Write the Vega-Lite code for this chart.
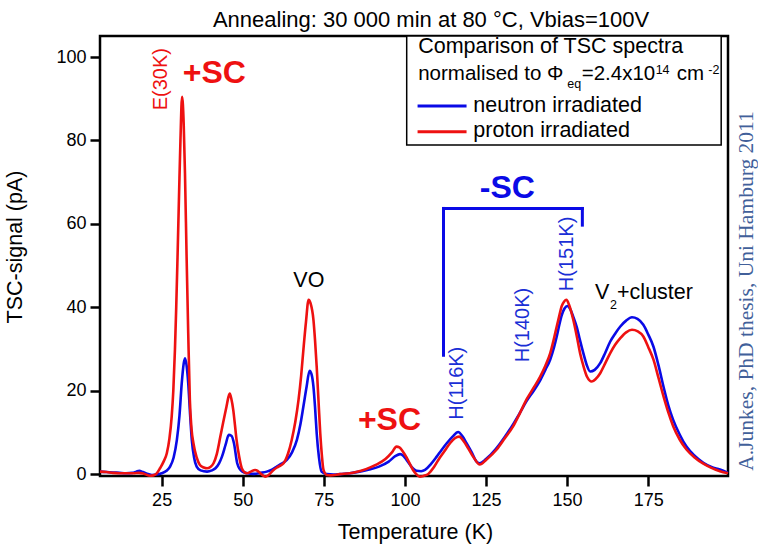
{
  "$schema": "https://vega.github.io/schema/vega-lite/v6.json",
  "width": 628,
  "height": 440,
  "autosize": "none",
  "padding": {"left": 100, "top": 36, "right": 30, "bottom": 76},
  "background": "white",
  "title": {
    "text": "Annealing: 30 000 min at 80 °C, Vbias=100V",
    "fontSize": 22,
    "fontWeight": "normal",
    "font": "Liberation Sans",
    "color": "black",
    "anchor": "middle",
    "dx": 17,
    "dy": 23,
    "baseline": "bottom",
    "offset": 4
  },
  "datasets": {
    "tsc": [
      {"run": "neutron", "T": 6, "pA": 0.6}, {"run": "neutron", "T": 8, "pA": 0.5}, {"run": "neutron", "T": 10, "pA": 0.4},
      {"run": "neutron", "T": 12, "pA": 0.3}, {"run": "neutron", "T": 14, "pA": 0.2}, {"run": "neutron", "T": 16, "pA": 0.3},
      {"run": "neutron", "T": 17.2, "pA": 0.6}, {"run": "neutron", "T": 18.1, "pA": 0.8}, {"run": "neutron", "T": 19.2, "pA": 0.5},
      {"run": "neutron", "T": 20.4, "pA": 0.1}, {"run": "neutron", "T": 22, "pA": -0.2}, {"run": "neutron", "T": 23.5, "pA": -0.1},
      {"run": "neutron", "T": 25, "pA": 0.2}, {"run": "neutron", "T": 26.5, "pA": 0.8}, {"run": "neutron", "T": 27.6, "pA": 1.8},
      {"run": "neutron", "T": 28.7, "pA": 4}, {"run": "neutron", "T": 29.7, "pA": 8.2}, {"run": "neutron", "T": 30.5, "pA": 14},
      {"run": "neutron", "T": 31.2, "pA": 21.8}, {"run": "neutron", "T": 31.8, "pA": 26.5}, {"run": "neutron", "T": 32.2, "pA": 27.8},
      {"run": "neutron", "T": 32.7, "pA": 26}, {"run": "neutron", "T": 33.2, "pA": 21.8}, {"run": "neutron", "T": 33.8, "pA": 14},
      {"run": "neutron", "T": 34.3, "pA": 8.2}, {"run": "neutron", "T": 35, "pA": 4}, {"run": "neutron", "T": 35.8, "pA": 1.8},
      {"run": "neutron", "T": 37, "pA": 0.9}, {"run": "neutron", "T": 39, "pA": 0.6}, {"run": "neutron", "T": 40.5, "pA": 0.9},
      {"run": "neutron", "T": 41.6, "pA": 1.4}, {"run": "neutron", "T": 42.7, "pA": 2.6}, {"run": "neutron", "T": 43.6, "pA": 4.2},
      {"run": "neutron", "T": 44.7, "pA": 7}, {"run": "neutron", "T": 45.7, "pA": 9.4}, {"run": "neutron", "T": 46.5, "pA": 9.2},
      {"run": "neutron", "T": 47.3, "pA": 7.4}, {"run": "neutron", "T": 48.3, "pA": 2.6}, {"run": "neutron", "T": 49.1, "pA": 1.2},
      {"run": "neutron", "T": 49.9, "pA": 0.6}, {"run": "neutron", "T": 51.5, "pA": 0.2}, {"run": "neutron", "T": 53.3, "pA": 0.05},
      {"run": "neutron", "T": 55.5, "pA": 0.3}, {"run": "neutron", "T": 57.4, "pA": 0.6}, {"run": "neutron", "T": 59, "pA": 1.1},
      {"run": "neutron", "T": 60.5, "pA": 1.8}, {"run": "neutron", "T": 62, "pA": 2.5}, {"run": "neutron", "T": 63.6, "pA": 3.4},
      {"run": "neutron", "T": 65.2, "pA": 5.2}, {"run": "neutron", "T": 66.7, "pA": 8.2}, {"run": "neutron", "T": 67.8, "pA": 12},
      {"run": "neutron", "T": 68.7, "pA": 16.2}, {"run": "neutron", "T": 69.7, "pA": 21}, {"run": "neutron", "T": 70.6, "pA": 24.8},
      {"run": "neutron", "T": 71.2, "pA": 24}, {"run": "neutron", "T": 71.8, "pA": 21}, {"run": "neutron", "T": 72.3, "pA": 16},
      {"run": "neutron", "T": 72.8, "pA": 9.8}, {"run": "neutron", "T": 73.5, "pA": 4}, {"run": "neutron", "T": 74.3, "pA": 0.6},
      {"run": "neutron", "T": 75.9, "pA": 0}, {"run": "neutron", "T": 78, "pA": -0.1}, {"run": "neutron", "T": 80, "pA": 0},
      {"run": "neutron", "T": 83, "pA": 0.2}, {"run": "neutron", "T": 86, "pA": 0.6}, {"run": "neutron", "T": 89, "pA": 1.1},
      {"run": "neutron", "T": 92, "pA": 1.8}, {"run": "neutron", "T": 95, "pA": 3}, {"run": "neutron", "T": 97, "pA": 4.3},
      {"run": "neutron", "T": 98.5, "pA": 4.8}, {"run": "neutron", "T": 99.5, "pA": 4.4}, {"run": "neutron", "T": 100.5, "pA": 3.4},
      {"run": "neutron", "T": 102, "pA": 1.8}, {"run": "neutron", "T": 103.6, "pA": 0.8}, {"run": "neutron", "T": 105, "pA": 0.7},
      {"run": "neutron", "T": 106.2, "pA": 1.0}, {"run": "neutron", "T": 108, "pA": 2.4}, {"run": "neutron", "T": 109.8, "pA": 4.2},
      {"run": "neutron", "T": 111.3, "pA": 5.8}, {"run": "neutron", "T": 112.9, "pA": 7.4}, {"run": "neutron", "T": 114.7, "pA": 9},
      {"run": "neutron", "T": 116.4, "pA": 10.1}, {"run": "neutron", "T": 117.8, "pA": 9}, {"run": "neutron", "T": 119, "pA": 7.4},
      {"run": "neutron", "T": 120.6, "pA": 5.2}, {"run": "neutron", "T": 122.1, "pA": 3.0}, {"run": "neutron", "T": 123.1, "pA": 2.6},
      {"run": "neutron", "T": 125, "pA": 3.6}, {"run": "neutron", "T": 128, "pA": 6}, {"run": "neutron", "T": 130.5, "pA": 8.6},
      {"run": "neutron", "T": 133, "pA": 11.5}, {"run": "neutron", "T": 135.3, "pA": 14.5}, {"run": "neutron", "T": 137.5, "pA": 17.5},
      {"run": "neutron", "T": 139.7, "pA": 20}, {"run": "neutron", "T": 141.7, "pA": 22.5}, {"run": "neutron", "T": 143.3, "pA": 25},
      {"run": "neutron", "T": 144.8, "pA": 27.5}, {"run": "neutron", "T": 146, "pA": 30.5}, {"run": "neutron", "T": 146.8, "pA": 33},
      {"run": "neutron", "T": 147.6, "pA": 35.8}, {"run": "neutron", "T": 148.3, "pA": 38}, {"run": "neutron", "T": 149.2, "pA": 39.7},
      {"run": "neutron", "T": 150.1, "pA": 40.3}, {"run": "neutron", "T": 151, "pA": 39.5}, {"run": "neutron", "T": 152, "pA": 37.5},
      {"run": "neutron", "T": 153, "pA": 35.2}, {"run": "neutron", "T": 154, "pA": 32}, {"run": "neutron", "T": 155, "pA": 29},
      {"run": "neutron", "T": 156, "pA": 26.3}, {"run": "neutron", "T": 157.1, "pA": 24.6}, {"run": "neutron", "T": 158.5, "pA": 25},
      {"run": "neutron", "T": 160.2, "pA": 26.6}, {"run": "neutron", "T": 161.7, "pA": 29}, {"run": "neutron", "T": 163.3, "pA": 31.8},
      {"run": "neutron", "T": 164.9, "pA": 33.8}, {"run": "neutron", "T": 166.4, "pA": 35.4}, {"run": "neutron", "T": 168.2, "pA": 36.8},
      {"run": "neutron", "T": 170, "pA": 37.6}, {"run": "neutron", "T": 171.7, "pA": 37.2}, {"run": "neutron", "T": 173.5, "pA": 35.8},
      {"run": "neutron", "T": 175, "pA": 33.5}, {"run": "neutron", "T": 176.6, "pA": 30.6}, {"run": "neutron", "T": 178.2, "pA": 26},
      {"run": "neutron", "T": 179.7, "pA": 21}, {"run": "neutron", "T": 181.2, "pA": 16.5}, {"run": "neutron", "T": 182.7, "pA": 13},
      {"run": "neutron", "T": 184.7, "pA": 9.5}, {"run": "neutron", "T": 186.8, "pA": 6.6}, {"run": "neutron", "T": 189.3, "pA": 4.4},
      {"run": "neutron", "T": 192, "pA": 2.7}, {"run": "neutron", "T": 194.5, "pA": 1.7}, {"run": "neutron", "T": 197.1, "pA": 1.1},
      {"run": "neutron", "T": 199.6, "pA": 0.3},
      {"run": "proton", "T": 6, "pA": 0.6}, {"run": "proton", "T": 8, "pA": 0.5}, {"run": "proton", "T": 10, "pA": 0.3},
      {"run": "proton", "T": 12, "pA": 0.2}, {"run": "proton", "T": 14, "pA": 0.2}, {"run": "proton", "T": 16.3, "pA": 0.2},
      {"run": "proton", "T": 18, "pA": 0.3}, {"run": "proton", "T": 19.5, "pA": 0.1}, {"run": "proton", "T": 21.4, "pA": -0.4},
      {"run": "proton", "T": 22.5, "pA": -0.3}, {"run": "proton", "T": 23.5, "pA": 0.2}, {"run": "proton", "T": 24.5, "pA": 1.4},
      {"run": "proton", "T": 25.6, "pA": 3}, {"run": "proton", "T": 26.6, "pA": 5}, {"run": "proton", "T": 27.4, "pA": 8.5},
      {"run": "proton", "T": 28.1, "pA": 13.8}, {"run": "proton", "T": 28.6, "pA": 20}, {"run": "proton", "T": 29.1, "pA": 29.8},
      {"run": "proton", "T": 29.5, "pA": 40}, {"run": "proton", "T": 29.9, "pA": 52}, {"run": "proton", "T": 30.4, "pA": 68},
      {"run": "proton", "T": 30.8, "pA": 80}, {"run": "proton", "T": 31.3, "pA": 90.5}, {"run": "proton", "T": 31.8, "pA": 84},
      {"run": "proton", "T": 32.2, "pA": 72}, {"run": "proton", "T": 32.7, "pA": 52}, {"run": "proton", "T": 33.2, "pA": 33.8},
      {"run": "proton", "T": 33.7, "pA": 17.8}, {"run": "proton", "T": 34.2, "pA": 11}, {"run": "proton", "T": 34.8, "pA": 7.4},
      {"run": "proton", "T": 35.8, "pA": 4}, {"run": "proton", "T": 36.8, "pA": 2.2}, {"run": "proton", "T": 38, "pA": 1.6},
      {"run": "proton", "T": 39, "pA": 1.4}, {"run": "proton", "T": 40, "pA": 1.7}, {"run": "proton", "T": 41, "pA": 2.6},
      {"run": "proton", "T": 42, "pA": 4.8}, {"run": "proton", "T": 43.1, "pA": 9}, {"run": "proton", "T": 44, "pA": 12.5},
      {"run": "proton", "T": 45, "pA": 16.2}, {"run": "proton", "T": 45.6, "pA": 18.5}, {"run": "proton", "T": 46, "pA": 19.3},
      {"run": "proton", "T": 46.5, "pA": 18}, {"run": "proton", "T": 47.1, "pA": 15.3}, {"run": "proton", "T": 47.6, "pA": 11.8},
      {"run": "proton", "T": 48.1, "pA": 8.2}, {"run": "proton", "T": 48.9, "pA": 4.2}, {"run": "proton", "T": 49.7, "pA": 1.4},
      {"run": "proton", "T": 50.5, "pA": 0.5}, {"run": "proton", "T": 51.2, "pA": 0.2}, {"run": "proton", "T": 52.5, "pA": 0.6},
      {"run": "proton", "T": 53.8, "pA": 1.0}, {"run": "proton", "T": 54.6, "pA": 0.8}, {"run": "proton", "T": 55.4, "pA": 0.2},
      {"run": "proton", "T": 56.2, "pA": -0.3}, {"run": "proton", "T": 56.9, "pA": -0.6}, {"run": "proton", "T": 58, "pA": -0.2},
      {"run": "proton", "T": 59.5, "pA": 1.0}, {"run": "proton", "T": 61, "pA": 1.8}, {"run": "proton", "T": 62.6, "pA": 2.6},
      {"run": "proton", "T": 64, "pA": 5}, {"run": "proton", "T": 65.1, "pA": 8.2}, {"run": "proton", "T": 66.2, "pA": 12.5},
      {"run": "proton", "T": 67.2, "pA": 17.8}, {"run": "proton", "T": 68, "pA": 23.5}, {"run": "proton", "T": 68.7, "pA": 29.8},
      {"run": "proton", "T": 69.5, "pA": 36.5}, {"run": "proton", "T": 70.3, "pA": 41.8}, {"run": "proton", "T": 70.9, "pA": 41},
      {"run": "proton", "T": 71.8, "pA": 37}, {"run": "proton", "T": 72.3, "pA": 32}, {"run": "proton", "T": 72.8, "pA": 25.8},
      {"run": "proton", "T": 73.4, "pA": 17}, {"run": "proton", "T": 73.9, "pA": 9.8}, {"run": "proton", "T": 74.4, "pA": 4.5},
      {"run": "proton", "T": 74.9, "pA": 1.0}, {"run": "proton", "T": 75.9, "pA": -0.2}, {"run": "proton", "T": 77, "pA": -0.3},
      {"run": "proton", "T": 80, "pA": 0}, {"run": "proton", "T": 83, "pA": 0.2}, {"run": "proton", "T": 85, "pA": 0.5},
      {"run": "proton", "T": 88, "pA": 1.2}, {"run": "proton", "T": 91, "pA": 2.2}, {"run": "proton", "T": 94, "pA": 3.6},
      {"run": "proton", "T": 96, "pA": 5.2}, {"run": "proton", "T": 97.4, "pA": 6.6}, {"run": "proton", "T": 98.3, "pA": 6.4},
      {"run": "proton", "T": 99.2, "pA": 5.6}, {"run": "proton", "T": 100.5, "pA": 4.0}, {"run": "proton", "T": 101.5, "pA": 2.5},
      {"run": "proton", "T": 102.5, "pA": 1.0}, {"run": "proton", "T": 103.5, "pA": 0}, {"run": "proton", "T": 104.6, "pA": -0.6},
      {"run": "proton", "T": 105.8, "pA": -0.4}, {"run": "proton", "T": 107.2, "pA": 0.05}, {"run": "proton", "T": 108.8, "pA": 1.5},
      {"run": "proton", "T": 110.3, "pA": 3.4}, {"run": "proton", "T": 112.1, "pA": 5.4}, {"run": "proton", "T": 113.9, "pA": 7.4},
      {"run": "proton", "T": 115.4, "pA": 8.6}, {"run": "proton", "T": 116.7, "pA": 9.0}, {"run": "proton", "T": 118, "pA": 8},
      {"run": "proton", "T": 119.5, "pA": 6.2}, {"run": "proton", "T": 121.2, "pA": 4}, {"run": "proton", "T": 123.1, "pA": 2.3},
      {"run": "proton", "T": 125, "pA": 3.4}, {"run": "proton", "T": 128.3, "pA": 5.9}, {"run": "proton", "T": 130.8, "pA": 8.6},
      {"run": "proton", "T": 133.4, "pA": 11.5}, {"run": "proton", "T": 135.5, "pA": 14.7}, {"run": "proton", "T": 137.5, "pA": 17.9},
      {"run": "proton", "T": 139.6, "pA": 20.6}, {"run": "proton", "T": 141.7, "pA": 23.4}, {"run": "proton", "T": 143.3, "pA": 26},
      {"run": "proton", "T": 144.8, "pA": 29}, {"run": "proton", "T": 145.8, "pA": 32}, {"run": "proton", "T": 146.8, "pA": 35.4},
      {"run": "proton", "T": 147.6, "pA": 38}, {"run": "proton", "T": 148.3, "pA": 40.2}, {"run": "proton", "T": 149.1, "pA": 41.4},
      {"run": "proton", "T": 149.8, "pA": 41.8}, {"run": "proton", "T": 150.6, "pA": 40.6}, {"run": "proton", "T": 151.9, "pA": 37},
      {"run": "proton", "T": 153, "pA": 33}, {"run": "proton", "T": 154, "pA": 29}, {"run": "proton", "T": 155, "pA": 26},
      {"run": "proton", "T": 156.1, "pA": 23.4}, {"run": "proton", "T": 157.6, "pA": 22.2}, {"run": "proton", "T": 158.8, "pA": 22.8},
      {"run": "proton", "T": 160.2, "pA": 24.2}, {"run": "proton", "T": 161.7, "pA": 26.5}, {"run": "proton", "T": 163.3, "pA": 29},
      {"run": "proton", "T": 164.8, "pA": 31}, {"run": "proton", "T": 166.4, "pA": 32.6}, {"run": "proton", "T": 168.2, "pA": 34},
      {"run": "proton", "T": 170, "pA": 34.6}, {"run": "proton", "T": 171.8, "pA": 34.2}, {"run": "proton", "T": 173.5, "pA": 33},
      {"run": "proton", "T": 175, "pA": 30.5}, {"run": "proton", "T": 176.6, "pA": 27.5}, {"run": "proton", "T": 178.2, "pA": 23},
      {"run": "proton", "T": 179.7, "pA": 18.7}, {"run": "proton", "T": 181.2, "pA": 14.8}, {"run": "proton", "T": 182.7, "pA": 11.5},
      {"run": "proton", "T": 184.7, "pA": 8.3}, {"run": "proton", "T": 186.8, "pA": 5.9}, {"run": "proton", "T": 189.3, "pA": 4},
      {"run": "proton", "T": 192, "pA": 2.5}, {"run": "proton", "T": 194.5, "pA": 1.5}, {"run": "proton", "T": 197.1, "pA": 0.7},
      {"run": "proton", "T": 199.6, "pA": 0.2}
    ],
    "box": [{"T": 100.55, "T2": 197.5, "pA": 105.05, "pA2": 78.9}],
    "keys": [
      {"run": "neutron", "T": 103.9, "T2": 119.0, "pA": 88.26},
      {"run": "proton", "T": 103.9, "T2": 119.0, "pA": 82.1}
    ],
    "bracket": [
      {"T": 111.9, "T2": 154.7, "pA": 63.7, "pA2": 63.7},
      {"T": 111.9, "T2": 111.9, "pA": 63.7, "pA2": 28.5},
      {"T": 154.7, "T2": 154.7, "pA": 63.7, "pA2": 59.7}
    ],
    "notes": [
      {"kind": "plain", "label": "Comparison of TSC spectra", "T": 104.1, "pA": 100.9},
      {"kind": "mid", "label": "normalised to Φ", "T": 104.1, "pA": 94.5},
      {"kind": "mid", "label": "=2.4x10", "T": 154.5, "pA": 94.5},
      {"kind": "mid", "label": "cm", "T": 183.8, "pA": 94.5},
      {"kind": "plain", "label": "neutron irradiated", "T": 121.1, "pA": 86.8},
      {"kind": "plain", "label": "proton irradiated", "T": 121.1, "pA": 80.8},
      {"kind": "plain", "label": "VO", "T": 65.6, "pA": 44.9},
      {"kind": "plain", "label": "V", "T": 158.6, "pA": 41.9},
      {"kind": "plain", "label": "+cluster", "T": 165.4, "pA": 41.9},
      {"kind": "small", "label": "eq", "T": 150.05, "pA": 92.5},
      {"kind": "small", "label": "14", "T": 177.3, "pA": 95.9},
      {"kind": "small", "label": "-2", "T": 193.5, "pA": 95.9},
      {"kind": "small", "label": "2", "T": 163.2, "pA": 39.7},
      {"kind": "plusSC", "label": "+SC", "T": 31.5, "pA": 93.7},
      {"kind": "plusSC", "label": "+SC", "T": 85.5, "pA": 10.55},
      {"kind": "minusSC", "label": "-SC", "T": 123.1, "pA": 66.1},
      {"kind": "redUp", "label": "E(30K)", "T": 24.9, "pA": 94.7},
      {"kind": "blueUp", "label": "H(116K)", "T": 116.2, "pA": 21.8},
      {"kind": "blueUp", "label": "H(140K)", "T": 136.5, "pA": 35.75},
      {"kind": "blueUp", "label": "H(151K)", "T": 149.9, "pA": 52.8},
      {"kind": "credit", "label": "A.Junkes, PhD thesis, Uni Hamburg 2011", "T": 207.4, "pA": 43.9}
    ]
  },
  "encoding": {
    "x": {
      "field": "T",
      "type": "quantitative",
      "scale": {"domain": [6, 199.6], "nice": false, "zero": false},
      "axis": {
        "values": [25, 50, 75, 100, 125, 150, 175],
        "title": "Temperature (K)",
        "labelPadding": 5.5,
        "titleX": 315,
        "titleY": 62,
        "titleBaseline": "alphabetic"
      }
    },
    "y": {
      "field": "pA",
      "type": "quantitative",
      "scale": {"domain": [-0.45, 105.05], "nice": false, "zero": false},
      "axis": {
        "values": [0, 20, 40, 60, 80, 100],
        "title": "TSC-signal (pA)",
        "labelPadding": 4,
        "titleX": -85,
        "titleY": 210.5,
        "titleAngle": 270,
        "titleAlign": "center",
        "titleBaseline": "middle"
      }
    }
  },
  "layer": [
    {
      "data": {"name": "tsc"},
      "mark": {"type": "line", "strokeWidth": 2.6, "interpolate": "monotone"},
      "encoding": {
        "color": {
          "field": "run",
          "type": "nominal",
          "scale": {"domain": ["neutron", "proton"], "range": ["#0a0ae6", "#ee1111"]},
          "legend": null
        }
      }
    },
    {
      "data": {"name": "bracket"},
      "mark": {"type": "rule", "color": "#0a0ae6", "strokeWidth": 3, "strokeCap": "square"},
      "encoding": {"x2": {"field": "T2"}, "y2": {"field": "pA2"}}
    },
    {
      "data": {"name": "box"},
      "mark": {"type": "rect", "fill": "white", "stroke": "black", "strokeWidth": 1.5},
      "encoding": {"x2": {"field": "T2"}, "y2": {"field": "pA2"}}
    },
    {
      "data": {"name": "keys"},
      "mark": {"type": "rule", "strokeWidth": 3},
      "encoding": {
        "x2": {"field": "T2"},
        "color": {"field": "run", "type": "nominal", "legend": null}
      }
    },
    {
      "data": {"name": "notes"},
      "transform": [{"filter": "datum.kind == 'plain'"}],
      "mark": {"type": "text", "align": "left", "baseline": "alphabetic", "fontSize": 21.5, "color": "black"},
      "encoding": {"text": {"field": "label"}}
    },
    {
      "data": {"name": "notes"},
      "transform": [{"filter": "datum.kind == 'mid'"}],
      "mark": {"type": "text", "align": "left", "baseline": "alphabetic", "fontSize": 20.5, "color": "black"},
      "encoding": {"text": {"field": "label"}}
    },
    {
      "data": {"name": "notes"},
      "transform": [{"filter": "datum.kind == 'small'"}],
      "mark": {"type": "text", "align": "left", "baseline": "alphabetic", "fontSize": 12.5, "color": "black"},
      "encoding": {"text": {"field": "label"}}
    },
    {
      "data": {"name": "notes"},
      "transform": [{"filter": "datum.kind == 'plusSC'"}],
      "mark": {"type": "text", "align": "left", "baseline": "alphabetic", "fontSize": 32, "fontWeight": "bold", "color": "#ee1111"},
      "encoding": {"text": {"field": "label"}}
    },
    {
      "data": {"name": "notes"},
      "transform": [{"filter": "datum.kind == 'minusSC'"}],
      "mark": {"type": "text", "align": "left", "baseline": "alphabetic", "fontSize": 32, "fontWeight": "bold", "color": "#0a0ae6"},
      "encoding": {"text": {"field": "label"}}
    },
    {
      "data": {"name": "notes"},
      "transform": [{"filter": "datum.kind == 'redUp'"}],
      "mark": {"type": "text", "align": "center", "baseline": "middle", "angle": 270, "fontSize": 20, "color": "#ee1111"},
      "encoding": {"text": {"field": "label"}}
    },
    {
      "data": {"name": "notes"},
      "transform": [{"filter": "datum.kind == 'blueUp'"}],
      "mark": {"type": "text", "align": "center", "baseline": "middle", "angle": 270, "fontSize": 20, "color": "#1a2fd6"},
      "encoding": {"text": {"field": "label"}}
    },
    {
      "data": {"name": "notes"},
      "transform": [{"filter": "datum.kind == 'credit'"}],
      "mark": {"type": "text", "align": "center", "baseline": "alphabetic", "angle": 270, "fontSize": 21.5, "font": "Liberation Serif", "color": "#41609a"},
      "encoding": {"text": {"field": "label"}}
    }
  ],
  "config": {
    "font": "Liberation Sans",
    "view": {"stroke": "black", "strokeWidth": 2.5},
    "text": {"font": "Liberation Sans"},
    "axis": {
      "domain": false,
      "grid": false,
      "tickColor": "black",
      "tickWidth": 2.5,
      "tickSize": 10,
      "labelFont": "Liberation Sans",
      "labelFontSize": 18,
      "labelColor": "black",
      "titleFont": "Liberation Sans",
      "titleFontSize": 21.5,
      "titleFontWeight": "normal",
      "titleColor": "black"
    }
  }
}
